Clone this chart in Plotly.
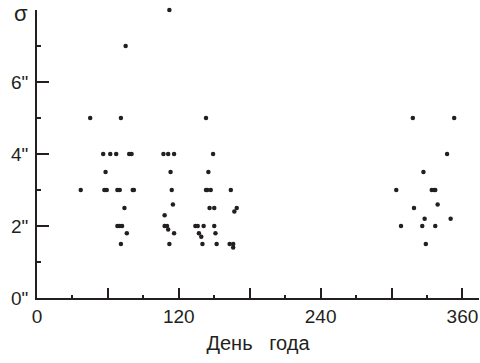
import plotly.graph_objects as go

# Day of year and sigma (arcsec)
days = [37, 45, 56, 57, 58, 59, 62, 67, 68, 68, 70, 70, 71, 71, 72, 74, 75, 76, 78, 80,
        81, 82, 107, 108, 108, 110, 111, 111, 112, 112, 113, 114, 115, 116, 116,
        134, 136, 137, 139, 140, 141, 143, 143, 144, 145, 146, 147, 149, 150, 150,
        151, 152, 163, 164, 166, 166, 167, 169,
        304, 308, 318, 319, 326, 327, 328, 329, 334, 336, 337, 337, 339, 347, 350, 353]
sigma = [3.0, 5.0, 4.0, 3.0, 3.5, 3.0, 4.0, 4.0, 3.0, 2.0, 3.0, 2.0, 5.0, 1.5, 2.0, 2.5, 7.0, 1.8, 4.0, 4.0,
         3.0, 3.0, 4.0, 2.3, 2.0, 2.0, 4.0, 1.9, 8.0, 1.5, 3.5, 3.0, 2.6, 4.0, 1.8,
         2.0, 2.0, 1.8, 1.7, 1.5, 2.0, 5.0, 3.0, 3.0, 3.5, 2.5, 3.0, 4.0, 2.5, 2.0,
         1.8, 1.5, 1.5, 3.0, 1.5, 1.4, 2.4, 2.5,
         3.0, 2.0, 5.0, 2.5, 2.0, 3.5, 2.2, 1.5, 3.0, 3.0, 3.0, 2.0, 2.6, 4.0, 2.2, 5.0]

x_major = [0, 60, 120, 180, 240, 300, 360]
x_labels = ["0", "", "120", "", "240", "", "360"]
x_minor = [30, 90, 150, 210, 270, 330]
y_major = [0, 2, 4, 6, 8]
y_labels = ['0"', '2"', '4"', '6"', '']
y_minor = [1, 3, 5, 7]

ink = "#231f20"
font = "Liberation Sans, Arial, sans-serif"

fig = go.Figure(go.Scatter(
    x=days, y=sigma, mode="markers", cliponaxis=False,
    marker=dict(size=4.5, color=ink, line=dict(width=0)),
    hoverinfo="skip",
))

fig.update_layout(
    width=480, height=363,
    margin=dict(l=37, r=1, t=10, b=65, autoexpand=False),
    paper_bgcolor="white", plot_bgcolor="white",
    showlegend=False,
    font=dict(family=font, size=19, color=ink),
    xaxis=dict(
        range=[0, 374], showgrid=False, zeroline=False, automargin=False,
        showline=True, linewidth=2, linecolor=ink,
        tickmode="array", tickvals=x_major, ticktext=x_labels,
        ticks="inside", ticklen=10, tickwidth=2, tickcolor=ink,
        minor=dict(tickmode="array", tickvals=x_minor, ticks="inside",
                   ticklen=3, tickwidth=2, tickcolor=ink),
        tickfont=dict(size=19, family=font, color=ink),
        title=dict(text="День\u00a0\u00a0\u00a0года",
                   font=dict(size=20, family=font, color=ink), standoff=10),
    ),
    yaxis=dict(
        range=[0, 8], showgrid=False, zeroline=False, automargin=False,
        showline=True, linewidth=2, linecolor=ink,
        tickmode="array", tickvals=y_major, ticktext=y_labels,
        ticks="inside", ticklen=12, tickwidth=2, tickcolor=ink,
        minor=dict(tickmode="array", tickvals=y_minor, ticks="inside",
                   ticklen=4, tickwidth=2, tickcolor=ink),
        tickfont=dict(size=19, family=font, color=ink),
        ticklabelstandoff=3,
    ),
    annotations=[dict(
        x=0, y=8, xref="paper", yref="y", text="σ", showarrow=False,
        xanchor="right", xshift=-7, yanchor="middle", yshift=-3,
        font=dict(size=22, family=font, color=ink),
    )],
)

fig.write_html("out.html", config={"displayModeBar": False},
               post_script='document.body.style.margin="0";')
